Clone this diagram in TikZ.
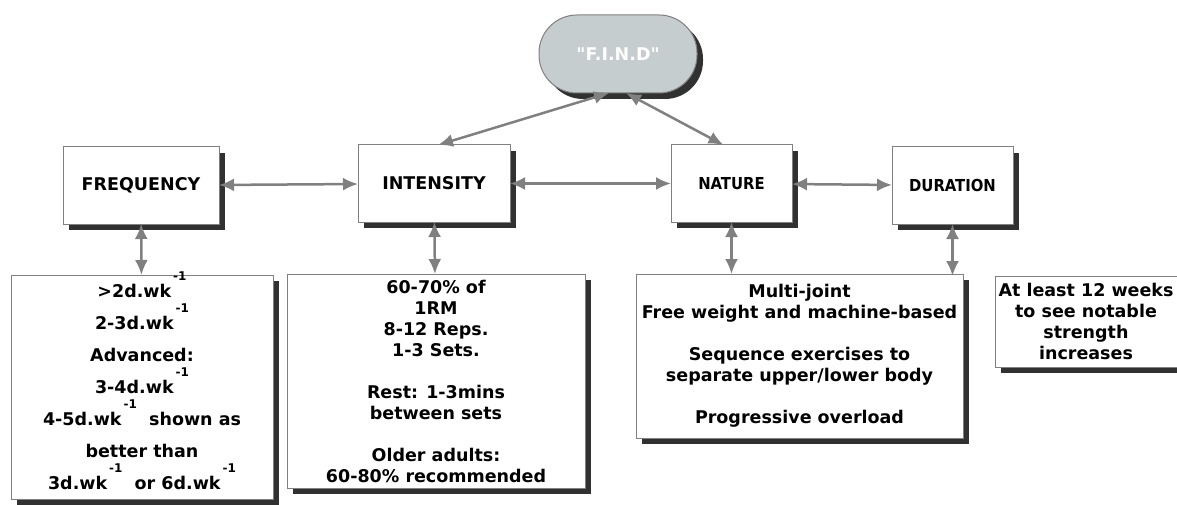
\documentclass[tikz,border=0pt]{standalone}
\usepackage{fontspec}
\setmainfont{DejaVu Sans}
\newfontfamily\condfont{DejaVu Sans Condensed}[BoldFont={DejaVu Sans Condensed Bold}]
\newfontfamily\quotefont{DejaVu Sans}[BoldFont={DejaVu Sans Bold}]
\usetikzlibrary{arrows.meta,shadows}
\definecolor{findgray}{RGB}{197,205,206}
\newcommand\wkinv{\smash{\raisebox{17pt}{\fontsize{12}{12}\selectfont\,-1}}}

\begin{document}
\begin{tikzpicture}[x=1pt,y=-1pt,
  box/.style={draw=gray,line width=1pt,fill=white,align=center,inner sep=2pt,outer sep=0pt,
    font=\bfseries\fontsize{17.5}{21}\selectfont,
    drop shadow={shadow xshift=6pt,shadow yshift=-6pt,fill=black!85,opacity=.95}},
  head/.style={box,minimum height=77pt},
  link/.style={gray,line width=2.5pt,{Latex[length=15pt,width=13pt]}-{Latex[length=15pt,width=13pt]}}]
  \useasboundingbox (0,0) rectangle (1177,505);
  % top
  \node[box,fill=findgray,text=white,rounded corners=38pt,minimum width=158pt,minimum height=78pt,
    font=\quotefont\bfseries\fontsize{17.5}{21}\selectfont] (find) at (618,54) {"F.I.N.D"};
  % the four headings
  \node[head,minimum width=156pt] (freq) at (141,185.5) {FREQUENCY};
  \node[head,minimum width=152pt] (int) at (434,183.5) {INTENSITY};
  \node[head,minimum width=121pt,font=\condfont\bfseries\fontsize{16.5}{19}\selectfont] (nat) at (731.5,183.5) {NATURE};
  \node[head,minimum width=121pt,font=\condfont\bfseries\fontsize{16.5}{19}\selectfont] (dur) at (952.5,185.5) {DURATION};
  % details
  \node[box,minimum width=262pt,minimum height=224pt,font=\bfseries\fontsize{17.5}{32}\selectfont] (freqd) at (142,387)
    {>2d.wk\wkinv\\ 2-3d.wk\wkinv\\ Advanced:\\ 3-4d.wk\wkinv\\ 4-5d.wk\wkinv{}\ \ shown as\\ better than\\ 3d.wk\wkinv{}\ \ or 6d.wk\wkinv};
  \node[box,minimum width=298pt,minimum height=214pt] (intd) at (436,381)
    {60-70\% of\\ 1RM\\ 8-12 Reps.\\ 1-3 Sets.\\[21pt] Rest: 1-3mins\\ between sets\\[21pt] Older adults:\\ 60-80\% recommended};
  \node[box,minimum width=327pt,minimum height=164pt] (natd) at (799.5,356)
    {Multi-joint\\ Free weight and machine-based\\[21pt] Sequence exercises to\\ separate upper/lower body\\[21pt] Progressive overload};
  \node[box,minimum width=182pt,minimum height=91pt,inner sep=1pt] (durd) at (1086,321.5)
    {At least 12 weeks\\ to see notable\\ strength\\ increases};
  % links
  \draw[link] (freq) -- (int);
  \draw[link] (int) -- (nat);
  \draw[link] (nat) -- (dur);
  \draw[link] (freq) -- (freqd);
  \draw[link] (int) -- (intd);
  \draw[link] (nat.south) -- (nat.south |- natd.north);
  \draw[link] (dur.south) -- (dur.south |- durd.north);
  \draw[link] ([xshift=4pt]int.north) -- ([xshift=-9pt]find.south);
  \draw[link] ([xshift=-8pt]nat.north) -- ([xshift=8pt]find.south);
\end{tikzpicture}
\end{document}
